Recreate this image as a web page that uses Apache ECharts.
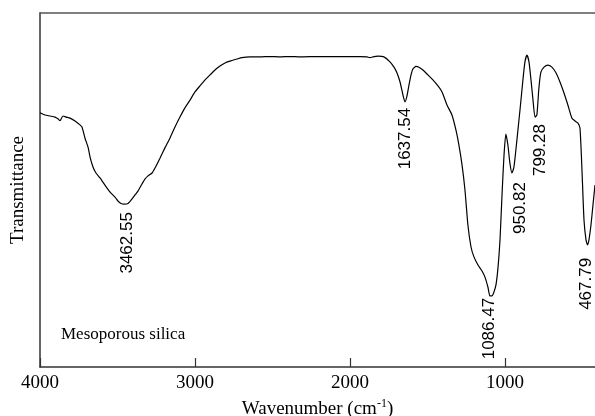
<!DOCTYPE html>
<html>
<head>
<meta charset="utf-8">
<script src="https://cdn.jsdelivr.net/npm/echarts@6/dist/echarts.min.js"></script>
<style>
  html, body { margin: 0; padding: 0; background: #fff; }
  #chart { width: 595px; height: 416px; }
</style>
</head>
<body>
<div id="chart"></div>
<script>
// wavenumber (cm-1) and transmittance (arbitrary units 0-100)
var wavenumber = [4000, 3968, 3935, 3903, 3884, 3871, 3852, 3832, 3806, 3774, 3742, 3729, 3710, 3690, 3677, 3658, 3639, 3613,
  3581, 3548, 3516, 3497, 3477, 3458, 3432, 3406, 3387, 3368, 3342, 3323, 3303, 3277, 3258, 3226, 3194, 3161, 3129, 3097,
  3065, 3032, 3000, 2968, 2935, 2903, 2871, 2839, 2806, 2774, 2729, 2697, 2645, 2581, 2516, 2452, 2387, 2323, 2194, 2065,
  1935, 1890, 1871, 1845, 1819, 1781, 1742, 1716, 1697, 1677, 1658, 1645, 1632, 1619, 1606, 1594, 1574, 1555, 1529, 1497,
  1465, 1432, 1406, 1374, 1342, 1316, 1297, 1277, 1258, 1239, 1219, 1200, 1174, 1148, 1129, 1110, 1097, 1084, 1071, 1058,
  1045, 1032, 1019, 1006, 994, 981, 968, 955, 942, 923, 903, 884, 871, 858, 845, 832, 819, 806, 794, 781, 768, 748, 723,
  697, 671, 645, 619, 594, 568, 548, 529, 516, 503, 490, 477, 467, 458, 445, 432, 419];
var transmittance = [71.8, 71.2, 70.9, 70.6, 70.1, 69.6, 70.9, 70.6, 70.3, 69.5, 68.4, 67.8, 64.7, 62.1, 59.3, 56.5, 54.8, 53.4,
  51.4, 49.4, 48.0, 46.9, 46.2, 46.0, 46.2, 47.5, 48.6, 49.7, 51.7, 53.1, 54.0, 54.8, 56.2, 59.0, 61.9, 64.7, 67.8, 70.6,
  73.2, 75.4, 77.7, 79.4, 81.1, 82.5, 83.9, 85.0, 85.9, 86.4, 87.0, 87.4, 87.6, 87.6, 87.7, 87.6, 87.7, 87.6, 87.7, 87.7,
  87.7, 87.6, 87.4, 87.7, 87.8, 87.6, 86.2, 84.7, 83.1, 80.5, 76.8, 74.9, 76.6, 79.7, 82.5, 84.2, 84.9, 84.7, 83.9, 82.5,
  81.1, 79.4, 77.7, 74.0, 71.2, 66.9, 62.7, 57.1, 50.0, 40.1, 33.9, 31.1, 28.8, 27.1, 25.4, 22.6, 20.1, 20.1, 21.2, 23.2,
  28.0, 35.9, 48.6, 59.9, 65.8, 62.7, 57.6, 54.8, 56.5, 64.1, 72.6, 81.1, 86.2, 88.1, 86.2, 81.1, 75.4, 70.6, 71.2, 78.8,
  83.3, 84.7, 85.3, 84.7, 83.1, 80.5, 77.4, 74.0, 70.3, 69.5, 68.9, 67.5, 55.6, 41.5, 35.9, 34.5, 35.9, 40.1, 45.8, 51.4];

// labelled absorption bands
var peakWn = [3462.55, 1637.54, 1086.47, 950.82, 799.28, 467.79];
var peakT = [46.3, 74.9, 20.1, 54.8, 70.6, 34.5];
var xTicks = [1000, 2000, 3000, 4000];

// label offsets from the band minimum (px)
var labelOffset = [[4, 9], [-1, 6], [-2, 2], [8, 9], [4, 7], [-1.5, 13]];

var serif = "'Liberation Serif', 'Times New Roman', serif";
var sans = "'Liberation Sans', Arial, sans-serif";

var chart = echarts.init(document.getElementById("chart"));

var points = wavenumber.map(function (w, i) {
  return [w, transmittance[i]];
});

var option = {
  animation: false,
  grid: { left: 40, right: 0, top: 13, bottom: 49, outerBoundsMode: "none", containLabel: false },
  xAxis: [
    {
      type: "value",
      inverse: true,
      min: 419,
      max: 4000,
      name: "{a|Wavenumber (cm}{b|-1}{a|)}",
      nameLocation: "middle",
      nameGap: 25,
      nameTextStyle: {
        rich: {
          a: { fontFamily: serif, fontSize: 19, color: "#000", lineHeight: 22 },
          b: { fontFamily: serif, fontSize: 12, color: "#000", verticalAlign: "top", lineHeight: 22, padding: [0, 0, 8, 0] },
        },
      },
      axisLine: { show: true, lineStyle: { color: "#333", width: 1.5 } },
      axisTick: {
        show: true,
        inside: true,
        length: 9,
        customValues: xTicks,
        lineStyle: { color: "#333", width: 1.2 },
      },
      axisLabel: {
        customValues: xTicks,
        color: "#000",
        fontFamily: serif,
        fontSize: 19,
        margin: 7,
        hideOverlap: false,
        formatter: function (v) {
          return String(v);
        },
      },
      splitLine: { show: false },
    },
    {
      type: "value",
      position: "top",
      inverse: true,
      min: 419,
      max: 4000,
      axisLine: { show: true, lineStyle: { color: "#555", width: 1.5 } },
      axisTick: { show: false },
      axisLabel: { show: false },
      splitLine: { show: false },
    },
  ],
  yAxis: {
    type: "value",
    min: 0,
    max: 100,
    name: "Transmittance",
    nameLocation: "middle",
    nameGap: 12,
    nameRotate: 90,
    nameTextStyle: { fontFamily: serif, fontSize: 19, color: "#000" },
    axisLine: { show: true, lineStyle: { color: "#333", width: 1.5 } },
    axisTick: { show: false },
    axisLabel: { show: false },
    splitLine: { show: false },
  },
  series: [
    {
      type: "line",
      data: points,
      showSymbol: false,
      smooth: 0.2,
      lineStyle: { color: "#000", width: 1.2 },
    },
  ],
};

chart.setOption(option);

var graphics = [
  {
    type: "text",
    left: 61,
    top: 326,
    style: { text: "Mesoporous silica", fontFamily: serif, fontSize: 17, fill: "#000" },
  },
];
peakWn.forEach(function (w, i) {
  var p = chart.convertToPixel({ xAxisIndex: 0, yAxisIndex: 0 }, [w, peakT[i]]);
  graphics.push({
    type: "text",
    x: p[0] + labelOffset[i][0],
    y: p[1] + labelOffset[i][1],
    rotation: Math.PI / 2,
    style: {
      text: w.toFixed(2),
      fontFamily: sans,
      fontSize: 17,
      fill: "#000",
      align: "right",
      verticalAlign: "middle",
    },
  });
});
chart.setOption({ graphic: graphics });
</script>
</body>
</html>
